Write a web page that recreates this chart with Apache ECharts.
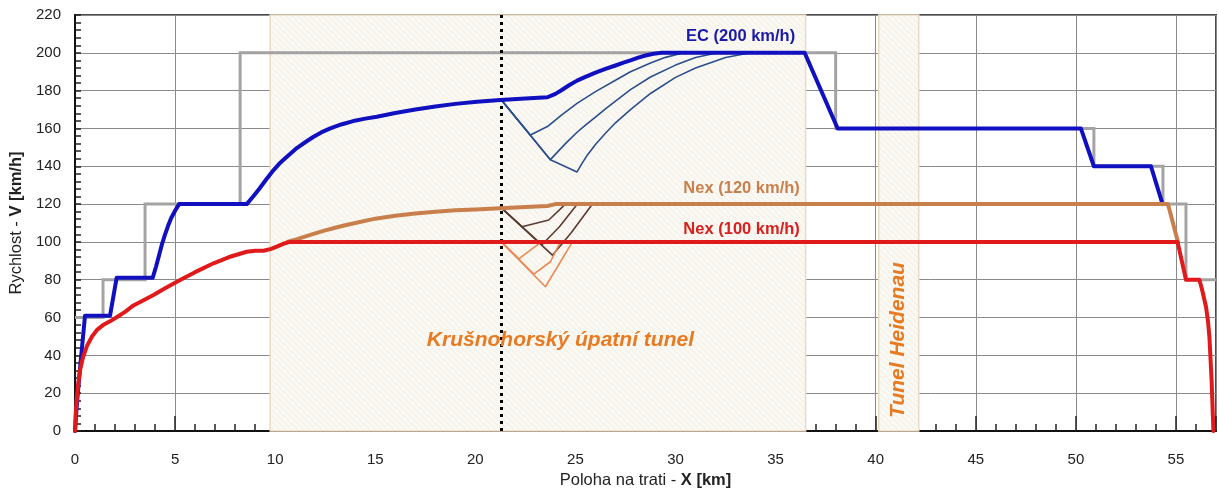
<!DOCTYPE html>
<html>
<head>
<meta charset="utf-8">
<script src="https://cdn.jsdelivr.net/npm/echarts@6/dist/echarts.min.js"></script>
<style>
html,body{margin:0;padding:0;background:#fff;}
#c{width:1219px;height:488px;}
</style>
</head>
<body>
<div id="c"></div>
<script>
// ---- data (km, km/h) ----
const limitX = [0, 1.4, 1.4, 3.5, 3.5, 8.25, 8.25, 38.0, 38.0, 50.9, 50.9, 54.35, 54.35, 55.5, 55.5, 57];
const limitV = [60, 60, 80, 80, 120, 120, 200, 200, 160, 160, 140, 140, 120, 120, 80, 80];

const ecX = [0, 0.1, 0.25, 0.5, 1.75, 2.08, 3.88, 4.05, 4.2, 4.35, 4.5, 4.65, 4.8, 5.0, 5.2, 8.58, 8.9, 9.2, 9.55, 9.92, 10.2, 10.5, 10.8, 11.08, 11.5, 11.9, 12.3, 12.75, 13.3, 13.9, 14.5, 15.08, 16, 17, 18, 19, 20.08, 21.25, 22.5, 23.6, 24.0, 24.3, 24.7, 25.08, 25.5, 26, 26.5, 27, 27.4, 27.75, 28.1, 28.5, 28.9, 29.3, 36.45, 38.1, 50.25, 50.9, 53.75, 54.33];
const ecV = [0, 15, 33, 61, 61, 81, 81, 87, 93, 99, 104, 108.5, 112.5, 116.5, 120, 120, 124, 128, 133, 138, 141.3, 144.2, 147, 149.6, 152.7, 155.5, 157.9, 160, 162.1, 163.9, 165.2, 166.2, 168.2, 170, 171.6, 173, 174.1, 175, 175.8, 176.5, 178.3, 180.2, 183, 185.3, 187.3, 189.5, 191.5, 193.3, 194.8, 196, 197.3, 198.6, 199.5, 200, 200, 160, 160, 140, 140, 120];

const nex120X = [10.6, 11.1, 11.6, 12, 12.5, 13, 13.5, 14, 15, 16, 17, 18, 19, 20, 21.25, 22.5, 23.6, 24, 54.6, 55.1];
const nex120V = [100, 101.5, 103.2, 104.5, 106.1, 107.5, 108.8, 110, 112.3, 113.8, 115, 116, 116.7, 117.2, 117.8, 118.4, 119, 120, 120, 100];

const nex100X = [0, 0.03, 0.08, 0.15, 0.25, 0.4, 0.6, 0.85, 1.1, 1.4, 1.75, 2.1, 2.5, 2.92, 3.4, 3.92, 4.5, 5.25, 6, 6.92, 7.7, 8.58, 9.0, 9.42, 9.8, 10.08, 10.4, 10.75, 55.08, 55.5, 56.17, 56.3, 56.5, 56.6, 56.67, 56.78, 56.87];
const nex100V = [0, 8, 16, 24, 32, 39, 45, 50, 53.5, 56, 58, 60.3, 63, 66.4, 69, 71.9, 75.5, 79.8, 84, 88.7, 92, 94.8, 95.3, 95.3, 96.3, 97.5, 99, 100, 100, 80, 80, 75, 65.7, 58, 49.9, 27, 0];

// braking scenarios from km 21.3
const ecBrake1X = [21.3, 22.75, 23.6, 24.3, 25.08, 26, 27, 27.75, 28.75, 29.5, 30.4];
const ecBrake1V = [175, 156.5, 161, 167, 173.3, 179.5, 185.5, 190, 194.6, 197.6, 200];
const ecBrake2X = [21.3, 23.75, 24.1, 24.5, 25.08, 25.5, 26, 26.5, 27, 27.75, 28.75, 30, 31, 32.1];
const ecBrake2V = [175, 143.5, 147.5, 152, 158, 161.8, 166, 170.4, 174.5, 180.5, 187.2, 193.5, 197.5, 200];
const ecBrake3X = [21.3, 23.75, 25.08, 25.3, 25.6, 26, 26.5, 27, 27.75, 28.75, 30, 31, 32.5, 33.75];
const ecBrake3V = [175, 143.5, 137, 141, 146, 151.5, 157.5, 163, 170, 178.5, 187, 192, 197.5, 200];

const n120Brake1X = [21.3, 22.33, 23.67, 24.5];
const n120Brake1V = [118, 108, 111.6, 120];
const n120Brake2X = [21.3, 23.33, 24.2, 25.1];
const n120Brake2V = [118, 98.5, 108, 120];
const n120Brake3X = [21.3, 23.85, 24.8, 25.85];
const n120Brake3V = [118, 93, 105, 120];

const n100Brake1X = [21.3, 22.17, 23.3];
const n100Brake1V = [100, 91, 100];
const n100Brake2X = [21.3, 22.92, 23.75, 24.25];
const n100Brake2V = [100, 83, 89.5, 100];
const n100Brake3X = [21.3, 23.5, 24.85];
const n100Brake3V = [100, 76.3, 100];

const tunnel1 = [9.75, 36.5];
const tunnel2 = [40.15, 42.15];
const dottedAt = 21.3;

const xTicks = [0, 5, 10, 15, 20, 25, 30, 35, 40, 45, 50, 55];

const labels = [
  {text: 'EC (200 km/h)', x: 33.25, v: 208.4, color: '#1a1aa8'},
  {text: 'Nex (120 km/h)', x: 33.3, v: 128.5, color: '#c8804f'},
  {text: 'Nex (100 km/h)', x: 33.3, v: 106.8, color: '#d82020'}
];
const tunnelLabels = [
  {text: 'Krušnohorský úpatní tunel', x: 24.25, v: 48.1, rot: 0},
  {text: 'Tunel Heidenau', x: 41.13, v: 48.1, rot: Math.PI / 2}
];

function pairs(xs, vs) { return xs.map((x, i) => [x, vs[i]]); }

// faint diagonal hatch fill for the tunnel areas
function hatch() {
  const cv = document.createElement('canvas');
  cv.width = 6; cv.height = 6;
  const g = cv.getContext('2d');
  g.fillStyle = '#faf8f2';
  g.fillRect(0, 0, 6, 6);
  g.strokeStyle = 'rgba(222,208,180,0.32)';
  g.lineWidth = 0.7;
  g.beginPath();
  g.moveTo(0, 0); g.lineTo(6, 6);
  g.moveTo(-3, 3); g.lineTo(3, 9);
  g.moveTo(3, -3); g.lineTo(9, 3);
  g.stroke();
  return cv;
}

const FONT = '"Liberation Sans", Arial, sans-serif';
const chart = echarts.init(document.getElementById('c'), null, {renderer: 'canvas'});

function line(name, xs, vs, color, width, z) {
  return {
    name: name, type: 'line', data: pairs(xs, vs), symbol: 'none', z: z,
    lineStyle: {color: color, width: width, join: 'round', cap: 'round'},
    animation: false
  };
}

const series = [
  Object.assign(line('limit', limitX, limitV, '#a3a3a3', 3, 2), {
    lineStyle: {color: '#a3a3a3', width: 3, join: 'miter', cap: 'butt'},
    markArea: {
      silent: true,
      itemStyle: {
        color: {image: hatch(), repeat: 'repeat'}, borderColor: '#eadcc2', borderWidth: 1.5
      },
      data: [
        [{xAxis: tunnel1[0]}, {xAxis: tunnel1[1]}],
        [{xAxis: tunnel2[0]}, {xAxis: tunnel2[1]}]
      ]
    }
  }),
  line('ecB1', ecBrake1X, ecBrake1V, '#2b4f8c', 1.6, 3),
  line('ecB2', ecBrake2X, ecBrake2V, '#2b4f8c', 1.6, 3),
  line('ecB3', ecBrake3X, ecBrake3V, '#2b4f8c', 1.6, 3),
  line('nB1', n120Brake1X, n120Brake1V, '#5d3b32', 1.6, 3),
  line('nB2', n120Brake2X, n120Brake2V, '#5d3b32', 1.6, 3),
  line('nB3', n120Brake3X, n120Brake3V, '#5d3b32', 1.6, 3),
  line('oB1', n100Brake1X, n100Brake1V, '#ea8a55', 1.6, 3),
  line('oB2', n100Brake2X, n100Brake2V, '#ea8a55', 1.6, 3),
  line('oB3', n100Brake3X, n100Brake3V, '#ea8a55', 1.6, 3),
  line('EC', ecX, ecV, '#1010c0', 4, 5),
  line('Nex120', nex120X, nex120V, '#c97f4c', 4, 5),
  Object.assign(line('Nex100', nex100X, nex100V, '#e01a1a', 4, 6), {
    markLine: {
      silent: true, symbol: 'none', label: {show: false},
      lineStyle: {color: '#000', width: 3, type: [3, 4]},
      data: [{xAxis: dottedAt}]
    }
  })
];

const nameStyle = {fontSize: 16.5, color: '#222', fontFamily: FONT,
  rich: {b: {fontSize: 16.5, fontWeight: 'bold', color: '#222', fontFamily: FONT}}};

chart.setOption({
  animation: false,
  grid: {left: 75, right: 3, top: 15, bottom: 57, show: true, borderColor: '#4a4a4a', borderWidth: 2,
    backgroundColor: 'transparent', containLabel: false, outerBoundsMode: 'none'},
  xAxis: {
    type: 'value', min: 0, max: 57, interval: 5,
    axisLine: {show: true, lineStyle: {color: '#111', width: 2}},
    axisTick: {show: true, inside: true, length: 15, lineStyle: {color: '#222', width: 1.5}},
    minorTick: {show: true, splitNumber: 5, length: 7, lineStyle: {color: '#222', width: 1.5}},
    splitLine: {show: true, lineStyle: {color: '#8a8a8a', width: 1}},
    axisLabel: {
      fontSize: 15, color: '#222', fontFamily: FONT, margin: 21, showMaxLabel: false,
      formatter: v => (xTicks.indexOf(v) >= 0 ? String(v) : '')
    },
    name: 'Poloha na trati - {b|X [km]}', nameLocation: 'middle', nameGap: 35,
    nameTextStyle: nameStyle
  },
  yAxis: {
    type: 'value', min: 0, max: 220, interval: 20,
    axisLine: {show: true, lineStyle: {color: '#111', width: 2}},
    axisTick: {show: true, inside: true, length: 6, lineStyle: {color: '#222', width: 1.5}},
    minorTick: {show: true, splitNumber: 5, length: 6, lineStyle: {color: '#222', width: 1.5}},
    splitLine: {show: true, lineStyle: {color: '#8a8a8a', width: 1}},
    axisLabel: {fontSize: 15, color: '#222', fontFamily: FONT, margin: 14},
    name: 'Rychlost - {b|V [km/h]}', nameLocation: 'middle', nameGap: 49,
    nameTextStyle: nameStyle
  },
  series: series
});

// text labels positioned through the chart's own scales
const graphics = [];
labels.forEach(l => {
  const p = chart.convertToPixel({gridIndex: 0}, [l.x, l.v]);
  graphics.push({type: 'text', x: p[0], y: p[1], z: 100, style: {
    text: l.text, fill: l.color, font: 'bold 16.5px ' + FONT, textAlign: 'center', textVerticalAlign: 'middle'}});
});
tunnelLabels.forEach(l => {
  const p = chart.convertToPixel({gridIndex: 0}, [l.x, l.v]);
  graphics.push({type: 'text', x: p[0], y: p[1], rotation: l.rot, z: 100, style: {
    text: l.text, fill: '#e87a22', font: 'italic bold 21px ' + FONT, textAlign: 'center', textVerticalAlign: 'middle'}});
});
chart.setOption({graphic: graphics});
</script>
</body>
</html>
